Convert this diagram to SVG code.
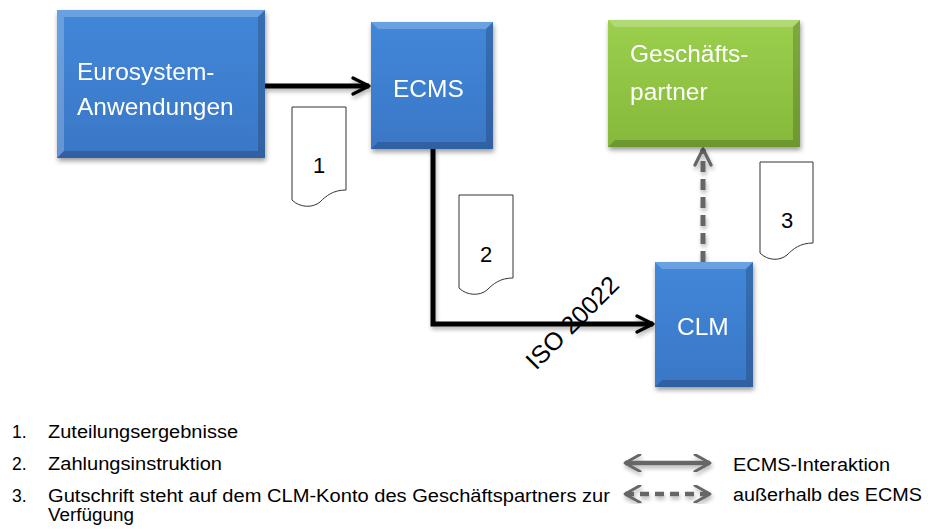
<svg xmlns="http://www.w3.org/2000/svg" width="933" height="529" viewBox="0 0 933 529">
<defs>
<linearGradient id="gBlue" x1="0" y1="0" x2="0" y2="1"><stop offset="0" stop-color="#4287d9"/><stop offset="1" stop-color="#3a77c6"/></linearGradient>
<linearGradient id="gGreen" x1="0" y1="0" x2="0" y2="1"><stop offset="0" stop-color="#9bcf4d"/><stop offset="1" stop-color="#86b93a"/></linearGradient>
<filter id="sh" x="-10%" y="-10%" width="130%" height="130%"><feGaussianBlur in="SourceAlpha" stdDeviation="2.5"/><feOffset dx="1" dy="3"/><feComponentTransfer><feFuncA type="linear" slope="0.4"/></feComponentTransfer><feMerge><feMergeNode/><feMergeNode in="SourceGraphic"/></feMerge></filter>
<filter id="sh2" x="-10%" y="-30%" width="120%" height="160%"><feGaussianBlur in="SourceAlpha" stdDeviation="2"/><feOffset dx="1" dy="3"/><feComponentTransfer><feFuncA type="linear" slope="0.3"/></feComponentTransfer><feMerge><feMergeNode/><feMergeNode in="SourceGraphic"/></feMerge></filter>
<marker id="ah" viewBox="0 0 10 10" refX="9" refY="5" markerWidth="4" markerHeight="4" orient="auto-start-reverse" markerUnits="strokeWidth"><path d="M1,1 L9,5 L1,9" fill="none" stroke="#000" stroke-width="1.6" stroke-linecap="round" stroke-linejoin="round"/></marker>
<marker id="ahg" viewBox="0 0 10 10" refX="9" refY="5" markerWidth="4" markerHeight="4" orient="auto-start-reverse" markerUnits="strokeWidth"><path d="M1,1 L9,5 L1,9" fill="none" stroke="#666" stroke-width="1.6" stroke-linecap="round" stroke-linejoin="round"/></marker>
<marker id="ahl" viewBox="0 0 10 10" refX="9" refY="5" markerWidth="4.2" markerHeight="4.2" orient="auto-start-reverse" markerUnits="strokeWidth"><path d="M1,0.5 L9,5 L1,9.5" fill="none" stroke="#666" stroke-width="1.5" stroke-linecap="round" stroke-linejoin="round"/></marker>
</defs>
<style>
.bt{font-family:"Liberation Sans",Arial,sans-serif;font-size:24.5px;fill:#fff}
.t{font-family:"Liberation Sans",Arial,sans-serif;font-size:17.5px;fill:#000}
.dt{font-family:"Liberation Sans",Arial,sans-serif;font-size:22px;fill:#000}
.doc{fill:#fff;stroke:#333;stroke-width:1}
.hl{fill:#ffffff;opacity:0.22}
.dk{fill:#000;opacity:0.18}
.con{fill:none;stroke:#000;stroke-width:5;stroke-linejoin:miter}
</style>
<rect width="933" height="529" fill="#fff"/>

<g id="connectors">
<g filter="url(#sh2)">
<line x1="265" y1="86" x2="369" y2="86" class="con" marker-end="url(#ah)"/>
<polyline points="433,149 433,324 653,324" class="con" marker-end="url(#ah)"/>
<line x1="703" y1="262" x2="703" y2="149" fill="none" stroke="#666" stroke-width="5" stroke-dasharray="11,7" marker-end="url(#ahg)"/>
</g>
</g>

<g id="eurosystem" filter="url(#sh)">
<rect x="57" y="10" width="208" height="148" fill="url(#gBlue)"/>
<polygon points="57,10 265,10 258,17 64,17" class="hl"/>
<polygon points="57,10 64,17 64,151 57,158" class="hl" opacity="0.12"/>
<polygon points="57,158 64,151 258,151 265,158" class="dk"/>
<polygon points="265,10 265,158 258,151 258,17" class="dk" opacity="0.1"/>
<text class="bt" x="77" y="80">Eurosystem-</text>
<text class="bt" x="77" y="115">Anwendungen</text>
</g>

<g id="ecms" filter="url(#sh)">
<rect x="371" y="22" width="122" height="127" fill="url(#gBlue)"/>
<polygon points="371,22 493,22 486,29 378,29" class="hl"/>
<polygon points="371,149 378,142 486,142 493,149" class="dk"/>
<polygon points="493,22 493,149 486,142 486,29" class="dk" opacity="0.1"/>
<text class="bt" x="393" y="97">ECMS</text>
</g>

<g id="geschaeftspartner" filter="url(#sh)">
<rect x="608" y="20" width="192" height="127" fill="url(#gGreen)"/>
<polygon points="608,20 800,20 793,27 615,27" class="hl"/>
<polygon points="608,147 615,140 793,140 800,147" class="dk"/>
<polygon points="800,20 800,147 793,140 793,27" class="dk" opacity="0.1"/>
<text class="bt" x="630" y="62">Geschäfts-</text>
<text class="bt" x="630" y="100">partner</text>
</g>

<g id="clm" filter="url(#sh)">
<rect x="655" y="262" width="98" height="125" fill="url(#gBlue)"/>
<polygon points="655,262 753,262 746,269 662,269" class="hl"/>
<polygon points="655,387 662,380 746,380 753,387" class="dk"/>
<polygon points="753,262 753,387 746,380 746,269" class="dk" opacity="0.1"/>
<text class="bt" x="677" y="335">CLM</text>
</g>

<g id="doc1">
<path class="doc" d="M292,107 H346 V190 C333,190 326,196 320,202 C313,208 300,208 292,200 Z"/>
<text class="dt" x="319" y="173" text-anchor="middle">1</text>
</g>
<g id="doc2">
<path class="doc" d="M459,195 H513 V278 C500,278 493,284 487,290 C480,296 467,296 459,288 Z"/>
<text class="dt" x="486" y="262" text-anchor="middle">2</text>
</g>
<g id="doc3">
<path class="doc" d="M760,162 H813 V243 C800,243 793,249 787,255 C780,261 768,261 760,253 Z"/>
<text class="dt" x="787" y="228" text-anchor="middle">3</text>
</g>

<text class="dt" style="font-size:25px" x="0" y="0" transform="translate(536,371) rotate(-45)">ISO 20022</text>

<g id="legend">
<text class="t" x="12" y="438">1.</text><text class="t" x="48" y="438" textLength="190" lengthAdjust="spacingAndGlyphs">Zuteilungsergebnisse</text>
<text class="t" x="12" y="470">2.</text><text class="t" x="48" y="470" textLength="174" lengthAdjust="spacingAndGlyphs">Zahlungsinstruktion</text>
<text class="t" x="12" y="502">3.</text><text class="t" x="48" y="502" textLength="562" lengthAdjust="spacingAndGlyphs">Gutschrift steht auf dem CLM-Konto des Geschäftspartners zur</text>
<text class="t" x="48" y="521" textLength="86" lengthAdjust="spacingAndGlyphs">Verfügung</text>
<g filter="url(#sh2)">
<line x1="625" y1="463" x2="710" y2="463" stroke="#666" stroke-width="4.5" marker-start="url(#ahl)" marker-end="url(#ahl)"/>
<line x1="625" y1="494" x2="710" y2="494" stroke="#666" stroke-width="4.5" stroke-dasharray="9,6" marker-start="url(#ahl)" marker-end="url(#ahl)"/>
</g>
<text class="t" x="733" y="471" textLength="157" lengthAdjust="spacingAndGlyphs">ECMS-Interaktion</text>
<text class="t" x="733" y="501" textLength="189" lengthAdjust="spacingAndGlyphs">außerhalb des ECMS</text>
</g>
</svg>
